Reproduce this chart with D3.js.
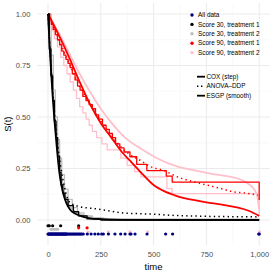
<!DOCTYPE html>
<html><head><meta charset="utf-8">
<script src="https://cdn.jsdelivr.net/npm/d3@7"></script>
<style>body{margin:0;background:#fff}svg{display:block}text{font-family:"Liberation Sans",Arial,sans-serif}</style>
</head><body><svg id="c" width="274" height="274"></svg>
<script>
// ---------- data ----------
const xTicks = [0, 250, 500, 750, 1000];
const yTicks = [0, 0.25, 0.5, 0.75, 1];
const yTickLabels = ["0.00", "0.25", "0.50", "0.75", "1.00"];
const groupNames = ["All data", "Score 30, treatment 1", "Score 30, treatment 2", "Score 90, treatment 1", "Score 90, treatment 2"];
const groupColors = ["#000080", "#000000", "#BEBEBE", "#FF0000", "#FFC0CB"];
const methodNames = ["COX (step)", "ANOVA\u2013DDP", "ESGP (smooth)"];

// ESGP smooth curves [time, S]
const esgpBlack = [[0,1],[10,0.8],[20,0.63],[30,0.49],[40,0.37],[52,0.245],[65,0.16],[77,0.11],[88,0.08],[105,0.05],[130,0.03],[167,0.015],[200,0.008],[250,0.004],[350,0.001],[1000,0]];
const esgpGray = [[0,1],[10,0.83],[20,0.67],[30,0.53],[40,0.41],[52,0.29],[65,0.2],[77,0.14],[88,0.1],[105,0.065],[130,0.04],[167,0.022],[200,0.014],[250,0.008],[350,0.004],[500,0.002],[1000,0.001]];
const esgpRed = [[0,1],[50,0.9],[100,0.79],[150,0.67],[200,0.56],[250,0.47],[300,0.4],[350,0.33],[400,0.275],[450,0.22],[500,0.17],[550,0.14],[600,0.12],[650,0.105],[700,0.095],[750,0.086],[800,0.078],[850,0.07],[900,0.06],[950,0.045],[1000,0.02]];
const esgpPink = [[0,1],[50,0.91],[100,0.81],[150,0.71],[200,0.62],[250,0.54],[294,0.48],[365,0.4],[450,0.34],[516,0.3],[611,0.26],[700,0.24],[800,0.22],[862,0.21],[942,0.18],[975,0.15],[990,0.12],[1000,0.05]];

// COX step curves [time, S]
const coxBlack = [[0,1],[6,0.83],[14,0.7],[22,0.58],[30,0.48],[38,0.4],[46,0.31],[55,0.23],[62,0.17],[70,0.13],[80,0.1],[95,0.07],[120,0.04],[145,0.02],[185,0.005],[250,0],[1000,0]];
const coxGray = [[0,1],[15,0.8],[25,0.63],[35,0.5],[45,0.39],[55,0.3],[65,0.22],[78,0.15],[95,0.1],[115,0.06],[140,0.035],[170,0.02],[210,0.01],[260,0.004],[1000,0.004]];
const coxRed = [[0,1],[8,0.975],[16,0.95],[25,0.925],[35,0.9],[45,0.875],[55,0.85],[65,0.82],[75,0.8],[85,0.78],[95,0.76],[105,0.74],[115,0.71],[128,0.68],[140,0.65],[152,0.63],[165,0.6],[180,0.58],[195,0.56],[210,0.54],[225,0.51],[240,0.49],[258,0.46],[275,0.44],[290,0.42],[305,0.4],[320,0.37],[340,0.35],[360,0.33],[388,0.307],[420,0.27],[468,0.24],[560,0.213],[588,0.184],[1000,0.097]];
const coxPink = [[0,1],[10,0.96],[20,0.92],[30,0.88],[45,0.84],[60,0.79],[75,0.75],[90,0.71],[105,0.67],[120,0.63],[135,0.59],[150,0.55],[165,0.52],[180,0.49],[195,0.46],[210,0.43],[230,0.4],[255,0.37],[280,0.34],[345,0.3],[375,0.265],[410,0.235],[440,0.209],[563,0.152],[588,0.128],[1000,0.02]];

// ANOVA-DDP curves [time, S]
const ddpBlack = [[0,1],[10,0.82],[20,0.66],[30,0.53],[40,0.42],[50,0.33],[60,0.26],[70,0.2],[85,0.13],[104,0.085],[150,0.065],[222,0.055],[293,0.044],[356,0.034],[450,0.03],[500,0.028],[600,0.022],[700,0.019],[800,0.017],[900,0.016],[1000,0.015]];
const ddpRed = [[0,1],[50,0.88],[100,0.76],[150,0.65],[200,0.56],[250,0.48],[300,0.41],[350,0.35],[400,0.31],[436,0.29],[483,0.26],[549,0.24],[611,0.21],[688,0.186],[751,0.17],[814,0.154],[877,0.137],[940,0.13],[994,0.12]];

// observed times (rug points below the curves)
const timesAll = [0,3,5,8,10,12,15,18,20,22,25,28,30,33,35,38,40,42,45,48,50,53,55,58,60,63,65,68,70,73,75,78,80,83,85,88,90,95,100,105,110,115,120,125,130,135,140,145,150,155,160,167,186,204,222,238,254,262,286,317,344,365,388,393,412,469,557,590,998,1000];
const timesBlack = [0,6,22,60,145];
const timesGray = [14,22,30,38,46];
const timesRed = [145,185];
const timesPink = [190,286,388,472,1002];
const rugLevel = [-0.068, -0.028, -0.045, -0.038, -0.057];

// ---------- drawing ----------
const svg = d3.select("#c");
const x = d3.scaleLinear().domain([0, 1000]).range([48, 259.2]);
const y = d3.scaleLinear().domain([0, 1]).range([220, 14]);
const x0 = x(-50), x1 = x(1050), y0 = y(-0.1235), y1 = y(1.0535);

const grid = svg.append("g");
const minorX = [125, 375, 625, 875], minorY = [0.125, 0.375, 0.625, 0.875];
grid.selectAll(".mx").data(minorX).enter().append("line")
  .attr("x1", d => x(d)).attr("x2", d => x(d)).attr("y1", y0).attr("y2", y1)
  .attr("stroke", "#F2F2F2").attr("stroke-width", 0.5);
grid.selectAll(".my").data(minorY).enter().append("line")
  .attr("y1", d => y(d)).attr("y2", d => y(d)).attr("x1", x0).attr("x2", x1)
  .attr("stroke", "#F2F2F2").attr("stroke-width", 0.5);
grid.selectAll(".gx").data(xTicks).enter().append("line")
  .attr("x1", d => x(d)).attr("x2", d => x(d)).attr("y1", y0).attr("y2", y1)
  .attr("stroke", "#EBEBEB").attr("stroke-width", 1);
grid.selectAll(".gy").data(yTicks).enter().append("line")
  .attr("y1", d => y(d)).attr("y2", d => y(d)).attr("x1", x0).attr("x2", x1)
  .attr("stroke", "#EBEBEB").attr("stroke-width", 1);

// axes (text only, ggplot minimal style)
const xAxis = d3.axisBottom(x).tickValues(xTicks).tickSize(0).tickPadding(0);
const gx = svg.append("g").attr("transform", `translate(0,${y0 + 6})`).call(xAxis);
gx.select(".domain").remove();
gx.selectAll("text").attr("font-size", 7.6).attr("fill", "#4D4D4D").attr("font-family", "Liberation Sans, Arial, sans-serif");
const yAxis = d3.axisLeft(y).tickValues(yTicks).tickFormat((d, i) => yTickLabels[i]).tickSize(0).tickPadding(0);
const gy = svg.append("g").attr("transform", `translate(${x0 - 7},0)`).call(yAxis);
gy.select(".domain").remove();
gy.selectAll("text").attr("font-size", 7.6).attr("fill", "#4D4D4D").attr("font-family", "Liberation Sans, Arial, sans-serif");

svg.append("text").attr("x", (x0 + x1) / 2).attr("y", 269.5).attr("text-anchor", "middle")
  .attr("font-size", 9.5).attr("fill", "#000").text("time");
svg.append("text").attr("transform", `translate(10.5,${(y0 + y1) / 2}) rotate(-90)`).attr("text-anchor", "middle")
  .attr("font-size", 9.5).attr("fill", "#000").text("S(t)");

const smooth = d3.line().x(d => x(d[0])).y(d => y(d[1])).curve(d3.curveMonotoneX);
const step = d3.line().x(d => x(d[0])).y(d => y(d[1])).curve(d3.curveStepAfter);
const plot = svg.append("g");
function addLine(data, gen, color, w, dash) {
  const p = plot.append("path").attr("d", gen(data)).attr("fill", "none")
    .attr("stroke", color).attr("stroke-width", w).attr("stroke-linejoin", "round");
  if (dash) p.attr("stroke-dasharray", dash).attr("stroke-linecap", "butt");
}
addLine(coxPink, step, groupColors[4], 1.3);
addLine(esgpPink, smooth, groupColors[4], 1.8);
addLine(coxGray, step, groupColors[2], 1.3);
addLine(esgpGray, smooth, groupColors[2], 1.8);
addLine(coxRed, step, groupColors[3], 1.3);
addLine(esgpRed, smooth, groupColors[3], 1.8);
addLine(ddpRed, smooth, groupColors[3], 1.5, "1.4,3.2");
addLine(coxBlack, step, groupColors[1], 1.3);
addLine(esgpBlack, smooth, groupColors[1], 1.8);
addLine(ddpBlack, smooth, groupColors[1], 1.5, "1.4,3.2");

// rug points
const rugSets = [timesAll, timesBlack, timesGray, timesRed, timesPink];
[4, 2, 1, 3, 0].forEach(g => {
  plot.append("g").selectAll("circle").data(rugSets[g]).enter().append("circle")
    .attr("cx", d => x(d)).attr("cy", y(rugLevel[g])).attr("r", 1.6).attr("fill", groupColors[g]);
});

// legends
const leg = svg.append("g");
groupNames.forEach((n, i) => {
  const yy = 15 + i * 9.4;
  leg.append("circle").attr("cx", 192).attr("cy", yy).attr("r", 1.7).attr("fill", groupColors[i]);
  leg.append("text").attr("x", 198).attr("y", yy + 2.2).attr("font-size", 6.4).attr("fill", "#000").text(n);
});
methodNames.forEach((n, i) => {
  const yy = 76.7 + i * 9.5;
  const l = leg.append("line").attr("x1", 197).attr("x2", 205).attr("y1", yy).attr("y2", yy)
    .attr("stroke", "#000").attr("stroke-width", i === 1 ? 1.6 : 1.8);
  if (i === 1) l.attr("stroke-dasharray", "1.4,2.6");
  leg.append("text").attr("x", 206.5).attr("y", yy + 2.2).attr("font-size", 6.4).attr("fill", "#000").text(n);
});
</script>
</body></html>
